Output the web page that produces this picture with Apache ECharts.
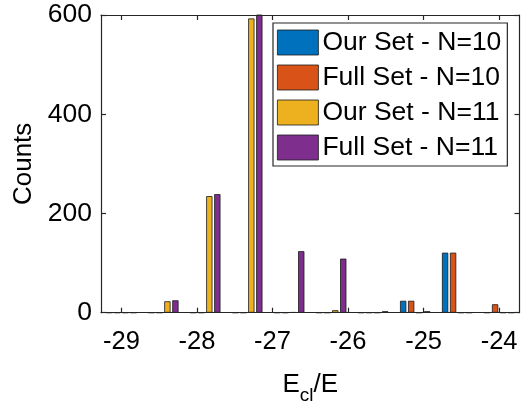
<!DOCTYPE html>
<html>
<head>
    <meta charset="utf-8">
    <title>Counts vs Ecl/E</title>
    <script src="https://cdn.jsdelivr.net/npm/echarts@6/dist/echarts.min.js"></script>
    <style>
        html, body { margin: 0; padding: 0; background: #fff; }
        #chart { width: 521px; height: 403px; }
    </style>
</head>
<body>
    <div id="chart"></div>

    <script type="text/javascript">
        // bin centres (10 bins from -29 to -24)
        var binCenters = [-29, -28.444, -27.889, -27.333, -26.778, -26.222, -25.667, -25.111, -24.556, -24];
        var ourSet10  = [0, 0, 0, 0, 0, 0, 0, 24, 121, 0];
        var fullSet10 = [0, 0, 0, 0, 0, 0, 0, 24, 121, 17];
        var ourSet11  = [0, 23, 235, 593, 1, 5, 0, 0, 0, 0];
        var fullSet11 = [0, 25, 239, 606, 124, 109, 3, 3, 0, 0];

        var xTicks = [-29, -28, -27, -26, -25, -24];
        var yTicks = [0, 200, 400, 600];

        var seriesNames = ['Our Set - N=10', 'Full Set - N=10', 'Our Set - N=11', 'Full Set - N=11'];
        var colors = ['#0072BD', '#D95319', '#EDB120', '#7E2F8E'];
        var values = [ourSet10, fullSet10, ourSet11, fullSet11];

        var font = 'Liberation Sans, Arial, Helvetica, sans-serif';
        var ink = '#262626';

        var series = [];
        for (var s = 0; s < values.length; s++) {
            var pts = [];
            for (var i = 0; i < binCenters.length; i++) {
                pts.push([binCenters[i], values[s][i]]);
            }
            series.push({
                name: seriesNames[s],
                type: 'bar',
                data: pts,
                barWidth: 6.3,
                barGap: '27%',
                clip: true,
                z: 1,
                itemStyle: {
                    color: colors[s],
                    borderColor: '#1a1a1a',
                    borderWidth: 0.8
                }
            });
        }

        var axisLine = { show: true, onZero: false, lineStyle: { color: ink, width: 1.2 } };

        var option = {
            animation: false,
            textStyle: { fontFamily: font },
            grid: { left: 101, right: 1.5, top: 15, bottom: 90.3, containLabel: false, outerBoundsMode: 'none' },
            legend: {
                data: seriesNames,
                orient: 'vertical',
                left: 273,
                top: 23,
                icon: 'rect',
                itemWidth: 41,
                itemHeight: 25,
                itemGap: 8,
                padding: [6, 6, 5, 4],
                backgroundColor: '#fff',
                borderColor: ink,
                borderWidth: 1.2,
                itemStyle: { borderColor: '#1a1a1a', borderWidth: 0.8 },
                textStyle: { fontSize: 26.5, color: '#000', fontFamily: font, padding: [0, 0, 0, -1] }
            },
            xAxis: [{
                type: 'value',
                min: -29.27,
                max: -23.73,
                name: 'E{sub|cl}/E',
                nameLocation: 'middle',
                nameGap: 52,
                nameTextStyle: {
                    fontSize: 26,
                    color: '#000',
                    rich: {
                        sub: { fontSize: 19, verticalAlign: 'bottom', padding: [22, 0, 0, 0] }
                    }
                },
                axisLine: axisLine,
                axisTick: { show: true, inside: true, length: 5, customValues: xTicks, lineStyle: { color: ink, width: 1.2 } },
                axisLabel: { customValues: xTicks, fontSize: 25.5, color: '#000', margin: 16 },
                splitLine: { show: false },
                z: 3
            }, {
                type: 'value',
                position: 'top',
                min: -29.27,
                max: -23.73,
                axisLine: axisLine,
                axisTick: { show: true, inside: true, length: 5, customValues: xTicks, lineStyle: { color: ink, width: 1.2 } },
                axisLabel: { show: false },
                splitLine: { show: false },
                z: 3
            }],
            yAxis: [{
                type: 'value',
                min: 0,
                max: 600,
                interval: 200,
                name: 'Counts',
                nameLocation: 'middle',
                nameRotate: 90,
                nameGap: 59,
                nameTextStyle: { fontSize: 26, color: '#000' },
                axisLine: axisLine,
                axisTick: { show: true, inside: true, length: 5, lineStyle: { color: ink, width: 1.2 } },
                axisLabel: { fontSize: 26.5, color: '#000', margin: 9 },
                splitLine: { show: false },
                z: 3
            }, {
                type: 'value',
                position: 'right',
                min: 0,
                max: 600,
                interval: 200,
                axisLine: axisLine,
                axisTick: { show: true, inside: true, length: 5, lineStyle: { color: ink, width: 1.2 } },
                axisLabel: { show: false },
                splitLine: { show: false },
                z: 3
            }],
            series: series
        };

        var chart = echarts.init(document.getElementById('chart'), null, { renderer: 'canvas' });
        chart.setOption(option);
    </script>
</body>
</html>
